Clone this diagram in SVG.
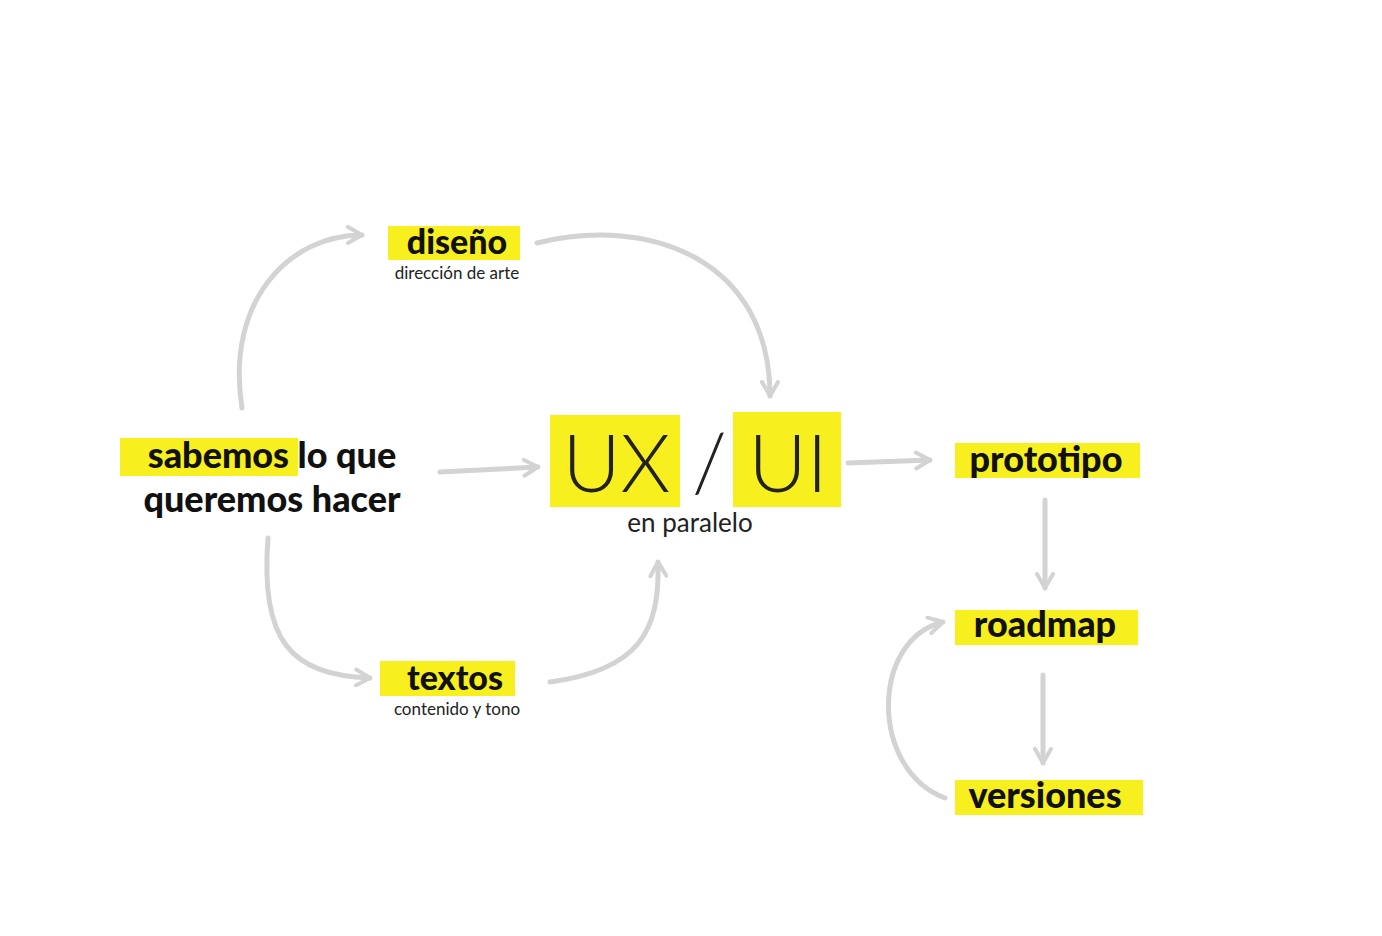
<svg xmlns="http://www.w3.org/2000/svg" width="1382" height="936" viewBox="0 0 1382 936">
<style>
.hl{fill:#f7f01e}
.t{font-family:Lato,"Open Sans",sans-serif;font-weight:900;fill:#111}
.s{font-family:Lato,"Open Sans",sans-serif;fill:#222}
.c path{fill:none;stroke:#d3d3d3;stroke-width:5;stroke-linecap:round;marker-end:url(#a)}
</style>
<defs>
<marker id="a" viewBox="0 0 10 10" refX="8" refY="5" markerWidth="4" markerHeight="4" orient="auto" markerUnits="strokeWidth">
<path d="M1,1 L8,5 L1,9" fill="none" stroke="#d3d3d3" stroke-width="2" stroke-linecap="round" stroke-linejoin="round"/>
</marker>
</defs>
<rect width="1382" height="936" fill="#fff"/>
<g class="c">
<path d="M242,408 C225,300 290,235 362,235"/>
<path d="M537,243 C650,215 770,260 770,396"/>
<path d="M440,472 L538,467"/>
<path d="M268,538 C260,640 290,675 370,678"/>
<path d="M550,682 C640,670 660,630 658,562"/>
<path d="M848,463 L930,460"/>
<path d="M1045,500 L1045,588"/>
<path d="M1043,675 L1043,763"/>
<path d="M945,798 C870,770 870,640 943,622"/>
</g>
<g id="diseno">
<rect class="hl" x="388" y="226" width="132" height="34"/>
<text class="t" x="457" y="254" font-size="34" text-anchor="middle">diseño</text>
<text class="s" x="457" y="279" font-size="17" text-anchor="middle">dirección de arte</text>
</g>
<g id="sabemos">
<rect class="hl" x="120" y="438" width="178" height="38"/>
<text class="t" x="272" y="468" font-size="36" text-anchor="middle">sabemos lo que</text>
<text class="t" x="272" y="512" font-size="36" text-anchor="middle">queremos hacer</text>
</g>
<g id="uxui">
<rect class="hl" x="550" y="415" width="130" height="92"/>
<rect class="hl" x="733" y="412" width="108" height="95"/>
<text class="s" x="695" y="492" font-size="80" font-weight="300" text-anchor="middle" fill="#111">UX / UI</text>
<text class="s" x="690" y="532" font-size="26" text-anchor="middle">en paralelo</text>
</g>
<g id="textos">
<rect class="hl" x="380" y="661" width="135" height="35"/>
<text class="t" x="455" y="690" font-size="34" text-anchor="middle">textos</text>
<text class="s" x="457" y="715" font-size="17" text-anchor="middle">contenido y tono</text>
</g>
<g id="prototipo">
<rect class="hl" x="955" y="443" width="185" height="35"/>
<text class="t" x="1046" y="472" font-size="36" text-anchor="middle">prototipo</text>
</g>
<g id="roadmap">
<rect class="hl" x="955" y="610" width="183" height="35"/>
<text class="t" x="1045" y="637" font-size="36" text-anchor="middle">roadmap</text>
</g>
<g id="versiones">
<rect class="hl" x="955" y="780" width="188" height="35"/>
<text class="t" x="1045" y="808" font-size="36" text-anchor="middle">versiones</text>
</g>
</svg>
